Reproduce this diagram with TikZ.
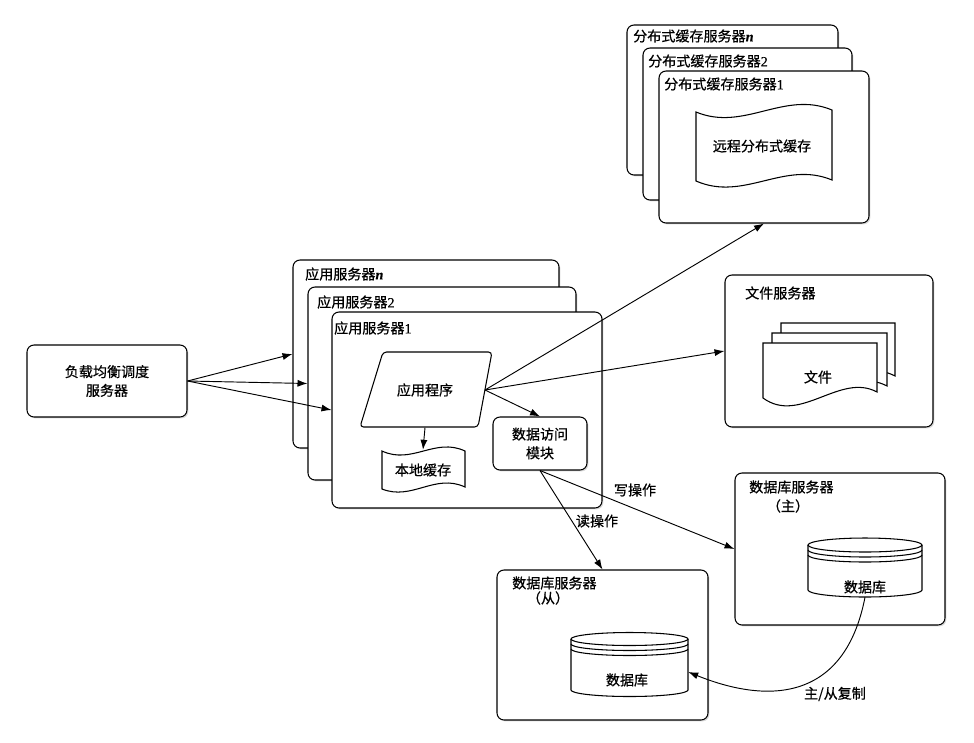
\documentclass[tikz,border=0pt]{standalone}
\usepackage{fontspec}
\setmainfont{Noto Sans CJK SC}[FakeBold=0.6]
\newfontfamily\lat{Liberation Serif}[FakeBold=0.6]
\usetikzlibrary{arrows.meta,fit,shadows,calc}
\begin{document}
\begin{tikzpicture}[x=0.03cm, y=-0.03cm,
  box/.style={draw, line width=0.9pt, rounded corners=6pt, fill=white, inner sep=0pt,
    drop shadow={shadow xshift=1.2pt, shadow yshift=-1.2pt, opacity=0.3}},
  lbl/.style={anchor=west, inner sep=0pt, font=\fontsize{12}{14}\selectfont},
  txt/.style={align=center, inner sep=0pt, font=\fontsize{12}{16}\selectfont},
  arr/.style={-{Latex[length=8.5pt,width=6pt]}, line width=0.8pt},
  shp/.style={draw, line width=0.9pt, fill=white},
  hold/.style={inner sep=0pt}
]
\useasboundingbox (0,0) rectangle (974,742);

% load balancer
\node[box, fit={(27,345)(187,417)}] (lb) {};
\node[txt] (lbt) at (lb.center) {负载均衡调度\\服务器};

% application servers
\node[box, fit={(293,260)(559,448)}] (appn) {};
\node[lbl] (appnl) at (305,274) {应用服务器{\lat\bfseries\itshape n}};
\node[box, fit={(308,287)(576,480)}] (app2) {};
\node[lbl] (app2l) at (317,302) {应用服务器{\lat\large 2}};
\node[box, fit={(332,312)(602,508)}] (app1) {};
\node[lbl] (app1l) at (334,328) {应用服务器{\lat\large 1}};

% application program (parallelogram)
\draw[shp, rounded corners=3pt] (383,352) -- (492,352) -- (478,427) -- (360,427) -- cycle;
\node[txt, minimum height=2.25cm, minimum width=3cm] (prog) at (425,390) {应用程序};
\coordinate (progr) at (485,390);

% local cache
\draw[shp] (382,451) .. controls (412,465) and (435,437) .. (465,451) -- (465,487)
  .. controls (435,473) and (412,501) .. (382,489) -- cycle;
\node[txt, minimum height=1.2cm] (lc) at (423,470) {本地缓存};

% data access module
\node[box, fit={(493,417)(587,470)}] (dam) {};
\node[txt] (damt) at (dam.center) {数据访问\\模块};

% distributed cache servers
\node[box, fit={(627,25)(838,175)}] (csn) {};
\node[lbl] (csnl) at (633,36) {分布式缓存服务器{\lat\bfseries\itshape n}};
\node[box, fit={(643,48)(852,200)}] (cs2) {};
\node[lbl] (cs2l) at (648,61) {分布式缓存服务器{\lat\large 2}};
\node[box, fit={(659,71)(869,223)}] (cs1) {};
\node[lbl] (cs1l) at (664,84) {分布式缓存服务器{\lat\large 1}};
\draw[shp] (696,112) .. controls (744,132) and (784,90) .. (832,110) -- (832,180)
  .. controls (784,160) and (744,202) .. (696,181) -- cycle;
\node[txt] (rc) at (762,146) {远程分布式缓存};

% file server
\node[box, fit={(725,275)(933,427)}] (fs) {};
\node[lbl] (fsl) at (745,293) {文件服务器};
\draw[shp] (781,323) -- (895,323) -- (895,376) .. controls (858,356) and (818,405) .. (781,380) -- cycle;
\draw[shp] (772,333) -- (887,333) -- (887,386) .. controls (850,366) and (810,415) .. (772,390) -- cycle;
\draw[shp] (763,343) -- (877,343) -- (877,392) .. controls (840,372) and (800,425) .. (763,398) -- cycle;
\node[txt] (doc) at (818,377) {文件};

% database master
\node[box, fit={(735,473)(945,625)}] (dbm) {};
\node[lbl] (dbml) at (749,487) {数据库服务器};
\node[txt] (dbmz) at (788,506) {（主）};
\draw[shp] (808,545) -- (808,590) arc[start angle=180,end angle=360,x radius=1.71cm,y radius=0.21cm] -- (922,545);
\draw[shp] (865,545) ellipse[x radius=1.71cm, y radius=0.21cm];
\draw[line width=0.9pt] (808,550) arc[start angle=180,end angle=360,x radius=1.71cm,y radius=0.21cm];
\draw[line width=0.9pt] (808,555) arc[start angle=180,end angle=360,x radius=1.71cm,y radius=0.21cm];
\node[hold, minimum width=3.42cm, minimum height=1.56cm] (mdb) at (865,571) {};
\node[txt] (mdbt) at (865,587) {数据库};

% database slave
\node[box, fit={(497,570)(708,720)}] (dbs) {};
\node[lbl] (dbsl) at (512,583) {数据库服务器};
\node[txt] (dbsz) at (548,598) {（从）};
\draw[shp] (571,639) -- (571,690) arc[start angle=180,end angle=360,x radius=1.755cm,y radius=0.195cm] -- (688,639);
\draw[shp] (629.5,639) ellipse[x radius=1.755cm, y radius=0.195cm];
\draw[line width=0.9pt] (571,644) arc[start angle=180,end angle=360,x radius=1.755cm,y radius=0.195cm];
\draw[line width=0.9pt] (571,649) arc[start angle=180,end angle=360,x radius=1.755cm,y radius=0.195cm];
\node[hold, minimum width=3.51cm, minimum height=1.2cm] (sdb) at (629.5,672) {};
\node[txt] (sdbt) at (627,680) {数据库};

% connectors
\draw[arr] (lb.east) -- (appn.west);
\draw[arr] (lb.east) -- (app2.west);
\draw[arr] (lb.east) -- (app1.west);
\draw[arr] (progr) -- (cs1.south);
\draw[arr] (progr) -- (fs.west);
\draw[arr] (progr) -- (dam.north);
\draw[arr] (prog.south) -- (lc.north);
\draw[arr] (dam.south) -- (dbm.west);
\draw[arr] (dam.south) -- (dbs.north);
\draw[arr] (mdb.south) .. controls (845,700) and (770,705) .. (sdb.east);

% connector labels
\node[txt] (wop) at (635,490) {写操作};
\node[txt] (rop) at (597,521) {读操作};
\node[txt] (rep) at (835,694) {主/从复制};
\end{tikzpicture}
\end{document}
